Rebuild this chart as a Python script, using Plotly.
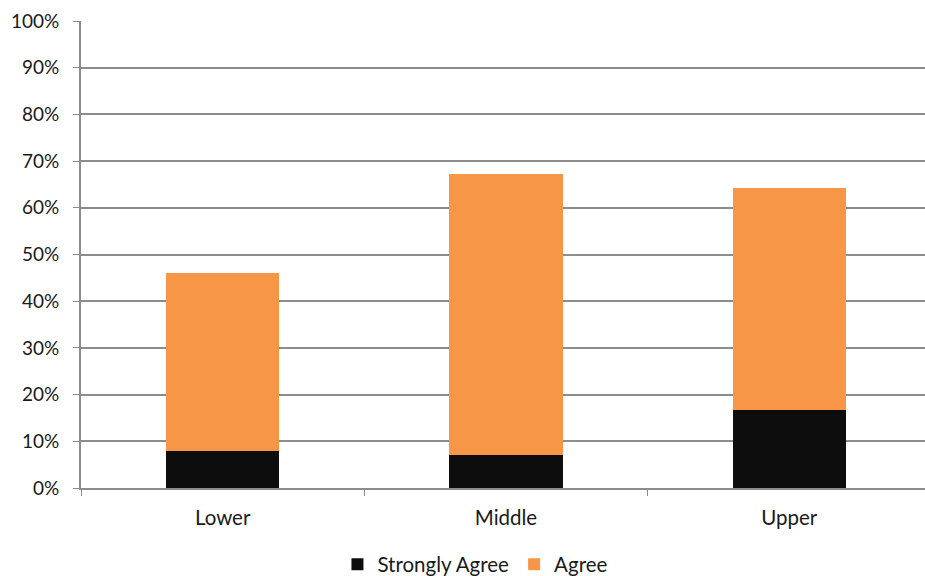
import plotly.graph_objects as go

categories = ["Lower", "Middle", "Upper"]
strongly_agree = [7.9, 7.1, 16.7]
agree = [38.1, 60.2, 47.6]
tick_vals = [0, 10, 20, 30, 40, 50, 60, 70, 80, 90, 100]
tick_text = [f"{v}%" for v in tick_vals]

fig = go.Figure()
fig.add_trace(go.Bar(x=categories, y=strongly_agree, name="Strongly Agree",
                     marker=dict(color="#0d0d0d", line=dict(width=0)), width=0.4))
fig.add_trace(go.Bar(x=categories, y=agree, name="Agree",
                     marker=dict(color="#f79646", line=dict(width=0)), width=0.4))

fig.update_layout(
    barmode="stack",
    width=925, height=576,
    margin=dict(l=81, r=0, t=21, b=88, autoexpand=False),
    paper_bgcolor="white", plot_bgcolor="white",
    font=dict(family="Lato, 'Open Sans', sans-serif", size=20, color="#1a1a1a"),
    showlegend=True,
    legend=dict(orientation="h", xref="container", x=0.514, xanchor="center",
                yref="container", y=0.02, yanchor="middle",
                font=dict(size=20.5), traceorder="normal", itemwidth=30),
    xaxis=dict(range=[-0.5, 2.479], showline=True, linecolor="#8c8c8c", linewidth=2,
               ticks="outside", tickson="boundaries", ticklen=6, tickcolor="#8c8c8c",
               tickwidth=1, showgrid=False, ticklabelstandoff=10, automargin=False,
               tickfont=dict(size=20.5)),
    yaxis=dict(range=[0, 100], tickvals=tick_vals, ticktext=tick_text,
               showline=True, linecolor="#8c8c8c", linewidth=2,
               ticks="outside", ticklen=6, tickcolor="#8c8c8c", tickwidth=1,
               showgrid=True, gridcolor="#8c8c8c", gridwidth=1.5,
               zeroline=False, ticklabelstandoff=10, automargin=False,
               tickfont=dict(size=19)),
)
fig.write_html("out.html", config={"displayModeBar": False},
               post_script="document.body.style.margin='0';document.body.style.overflow='hidden';")
